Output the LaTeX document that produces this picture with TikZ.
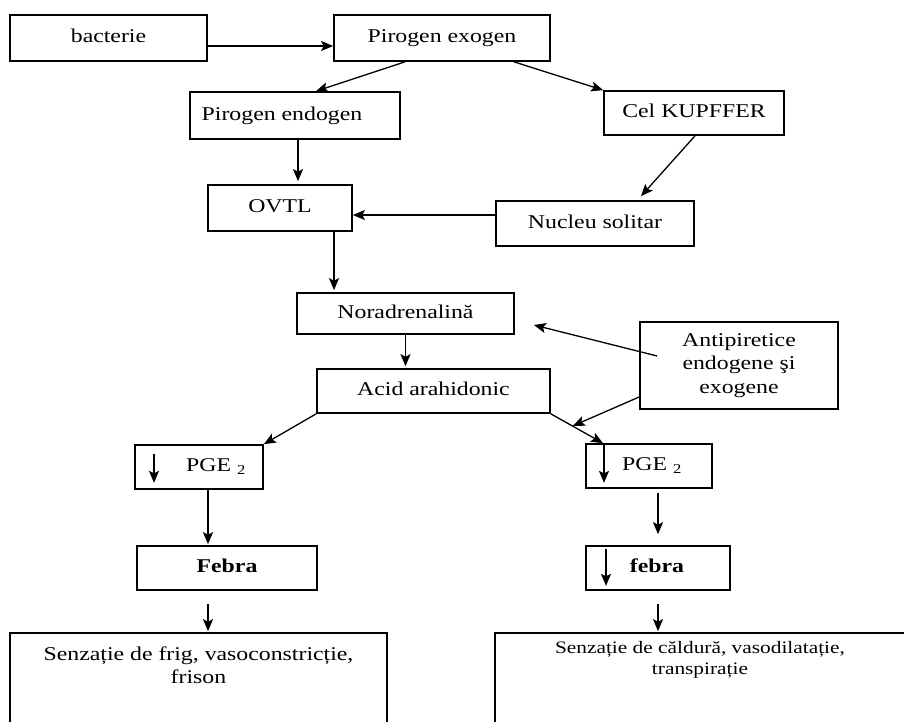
\documentclass[tikz,border=0pt]{standalone}
\usepackage{fontspec}
\setmainfont[FakeStretch=1.22]{Liberation Serif}
\usetikzlibrary{arrows.meta}
\newcommand\diagfont{\fontsize{19.5}{23.5}\selectfont}
\newcommand\smallerdiagfont{\fontsize{17.5}{21}\selectfont}
\begin{document}
\begin{tikzpicture}[x=1pt,y=-1pt,
  box/.style={draw, line width=1.7pt, inner sep=0pt, font=\diagfont,
              text height=13pt, text depth=4pt},
  lbl/.style={inner sep=0pt, font=\diagfont, text height=13pt, text depth=4pt},
  arr/.style={line width=1.3pt, -{Stealth[length=12pt,width=10pt,inset=2.5pt]}},
  inarr/.style={line width=1.8pt, -{Stealth[length=12pt,width=10pt,inset=2.5pt]}}]
\useasboundingbox (0,0) rectangle (904,721);
\fill[white] (0,0) rectangle (904,721);
\clip (0,0) rectangle (904,721);

% boxes
\node[box, minimum width=197pt, minimum height=46pt] (bact) at (108.5,38) {bacterie};
\node[box, minimum width=216pt, minimum height=46pt] (exo) at (442,38) {Pirogen exogen};
\node[box, minimum width=210pt, minimum height=47pt] (endo) at (295,115.5) {};
\node[lbl] (endoT) at (282,115.5) {Pirogen endogen};
\node[box, minimum width=180pt, minimum height=44pt] (kup) at (694,113) {Cel KUPFFER};
\node[box, minimum width=144pt, minimum height=46pt] (ovtl) at (280,208) {OVTL};
\node[box, minimum width=198pt, minimum height=45pt] (nuc) at (595,223.5) {Nucleu solitar};
\node[box, minimum width=217pt, minimum height=41pt] (nor) at (405.5,313.5) {Noradrenalină};
\node[box, minimum width=198pt, minimum height=87pt, align=center,
      text height=, text depth=] (antip) at (739,365.5) {Antipiretice\\endogene şi\\exogene};
\node[box, minimum width=233pt, minimum height=44pt] (acid) at (433.5,391) {Acid arahidonic};
\node[box, minimum width=128pt, minimum height=44pt] (pgeL) at (199,467) {};
\node[lbl] (pgeLT) at (216,467) {PGE \textsubscript{2}};
\node[box, minimum width=126pt, minimum height=44pt] (pgeR) at (649,466) {};
\node[lbl] (pgeRT) at (652,466) {PGE \textsubscript{2}};
\node[box, minimum width=180pt, minimum height=44pt, font=\diagfont\bfseries] (febL) at (227,568) {Febra};
\node[box, minimum width=144pt, minimum height=44pt] (febR) at (658,568) {};
\node[lbl, font=\diagfont\bfseries] (febRT) at (657,568) {febra};
\node[box, minimum width=377pt, minimum height=127pt] (botL) at (198.5,696.5) {};
\node[inner sep=0pt, font=\diagfont, align=center] (botLT) at (198.5,665) {Senzație de frig, vasoconstricție,\\frison};
\node[box, minimum width=411pt, minimum height=127pt] (botR) at (700.5,696.5) {};
\node[inner sep=0pt, font=\smallerdiagfont, align=center] (botRT) at (700,660) {Senzație de căldură, vasodilatație,\\transpirație};

% free ends
\coordinate (tipN) at ([xshift=19pt,yshift=-11.5pt]nor.east);
\coordinate (tipA) at ([xshift=22pt,yshift=-12pt]acid.south east);

% connectors
\draw[arr] ([yshift=-8pt]bact.east) -- ([yshift=-8pt]exo.west);
\draw[arr] ([xshift=-37pt]exo.south) -- ([xshift=21pt]endo.north);
\draw[arr] ([xshift=72pt]exo.south) -- (kup.north west);
\draw[arr] ([xshift=3pt]endo.south) -- ([xshift=18pt,yshift=3pt]ovtl.north);
\draw[arr] ([xshift=1pt]kup.south) -- ([xshift=46pt,yshift=4pt]nuc.north);
\draw[arr] ([yshift=8.5pt]nuc.west) -- ([yshift=8.5pt]nuc.west -| ovtl.east);
\draw[arr] ([xshift=54pt]ovtl.south) -- ([xshift=54pt,yshift=2pt]ovtl.south |- nor.north);
\draw[arr] (nor.south) -- ([yshift=2pt]nor.south |- acid.north);
\draw[arr] ([xshift=18pt,yshift=9.5pt]antip.west) -- (tipN);
\draw[arr] ([yshift=-31.5pt]antip.west) -- (tipA);
\draw[arr] (acid.south west) -- (pgeL.north east);
\draw[arr] (acid.south east) -- ([xshift=-46pt]pgeR.north);
\draw[inarr] ([xshift=-45pt]pgeR.north) -- ([xshift=-45pt,yshift=6pt]pgeR.south);
\draw[inarr] ([xshift=-45pt,yshift=-10pt]pgeL.north) -- ([xshift=-45pt,yshift=7pt]pgeL.south);
\draw[arr] ([xshift=9pt]pgeL.south) -- ([xshift=9pt,yshift=1pt]pgeL.south |- febL.north);
\draw[arr] ([xshift=9pt,yshift=-4pt]pgeR.south) -- ([yshift=11pt]febR.north);
\draw[inarr] ([xshift=-52pt,yshift=-4pt]febR.north) -- ([xshift=-52pt,yshift=5pt]febR.south);
\draw[arr] ([xshift=-19pt,yshift=-13pt]febL.south) -- ([xshift=-19pt,yshift=1pt]febL.south |- botL.north);
\draw[arr] ([yshift=-13pt]febR.south) -- ([yshift=1pt]febR.south |- botR.north);
\end{tikzpicture}
\end{document}
